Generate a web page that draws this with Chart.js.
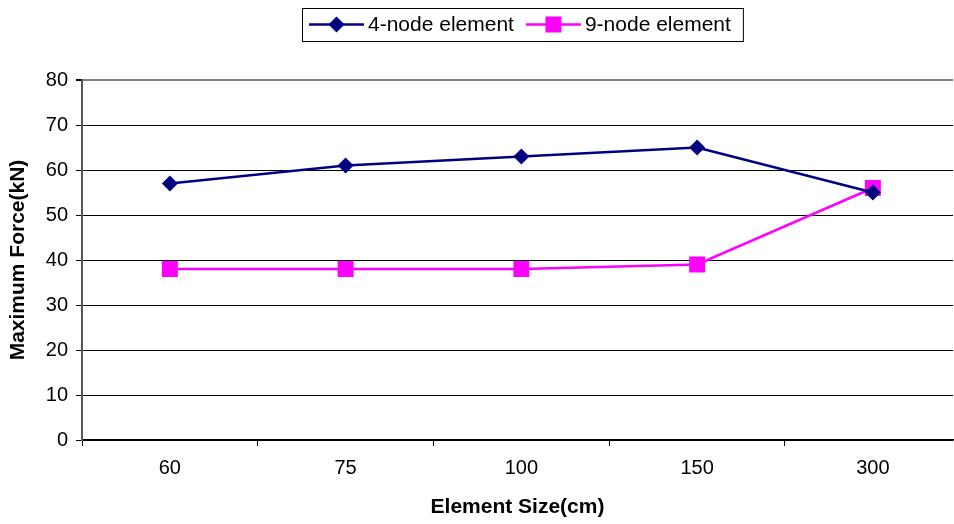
<!DOCTYPE html>
<html>
<head>
<meta charset="utf-8">
<script src="https://cdn.jsdelivr.net/npm/chart.js@4"></script>
<style>
  html, body { margin: 0; padding: 0; background: #fff; overflow: hidden; }
  #forceChart { display: block; }
</style>
</head>
<body>
<canvas id="forceChart" width="954" height="524"></canvas>
<script>
const elementSizes = ['60', '75', '100', '150', '300'];
const fourNode = [57, 61, 63, 65, 55];
const nineNode = [38, 38, 38, 39, 56];
const seriesNames = ['4-node element', '9-node element'];

const FONT = 'Arial, "Liberation Sans", sans-serif';

// categories sit on integer positions; the last slot runs past the canvas edge
const X_MIN = -0.5;
const X_MAX = elementSizes.length - 0.544;

const toPoints = arr => arr.map((v, i) => ({ x: i, y: v }));

// legend drawn in a bordered box above the plot, line + marker + label
const boxedLegend = {
  id: 'boxedLegend',
  afterDraw(chart) {
    const ctx = chart.ctx;
    ctx.save();
    ctx.font = '21px ' + FONT;
    const lineLen = 55, gap = 4, itemGap = 12, padL = 7, padR = 12;
    const widths = chart.data.datasets.map(ds => ctx.measureText(ds.label).width);
    let total = padL + padR;
    widths.forEach((w, i) => { total += lineLen + gap + w + (i ? itemGap : 0); });
    const left = Math.round(522.5 - total / 2);
    const top = 8, h = 33, cy = top + h / 2;
    ctx.strokeStyle = '#000';
    ctx.lineWidth = 1;
    ctx.strokeRect(left + 0.5, top + 0.5, total, h);
    let x = left + padL;
    chart.data.datasets.forEach((ds, i) => {
      if (i) x += itemGap;
      ctx.strokeStyle = ds.borderColor;
      ctx.lineWidth = ds.borderWidth;
      ctx.beginPath();
      ctx.moveTo(x, cy);
      ctx.lineTo(x + lineLen, cy);
      ctx.stroke();
      ctx.fillStyle = ds.pointBackgroundColor;
      Chart.helpers.drawPoint(ctx, {
        pointStyle: ds.pointStyle, radius: ds.pointRadius, borderWidth: 0, rotation: 0
      }, x + lineLen / 2, cy);
      ctx.fillStyle = '#000';
      ctx.textBaseline = 'middle';
      ctx.textAlign = 'left';
      ctx.fillText(ds.label, x + lineLen + gap, cy + 1);
      x += lineLen + gap + widths[i];
    });
    ctx.restore();
  }
};

new Chart(document.getElementById('forceChart'), {
  type: 'line',
  data: {
    datasets: [
      {
        label: seriesNames[0],
        data: toPoints(fourNode),
        borderColor: '#000080',
        backgroundColor: '#000080',
        pointBackgroundColor: '#000080',
        borderWidth: 2.5,
        pointStyle: 'rectRot',
        pointRadius: 8,
        pointHoverRadius: 8,
        pointBorderWidth: 0,
        tension: 0
      },
      {
        label: seriesNames[1],
        data: toPoints(nineNode),
        borderColor: '#FF00FF',
        backgroundColor: '#FF00FF',
        pointBackgroundColor: '#FF00FF',
        borderWidth: 2.5,
        pointStyle: 'rect',
        pointRadius: 11.3,
        pointHoverRadius: 11.3,
        pointBorderWidth: 0,
        tension: 0
      }
    ]
  },
  options: {
    responsive: false,
    animation: false,
    layout: {
      autoPadding: false,
      padding: { top: 80, right: 1, left: 0, bottom: 0 }
    },
    plugins: {
      legend: { display: false },
      tooltip: { enabled: false }
    },
    scales: {
      x: {
        type: 'linear',
        min: X_MIN,
        max: X_MAX,
        afterFit(scale) { scale.height = 84; },
        // a tick mark between categories, a label under each one
        afterBuildTicks(scale) {
          scale.ticks = elementSizes.flatMap((_, i) => [{ value: i - 0.5 }, { value: i }]);
        },
        grid: {
          drawOnChartArea: false,
          color: ctx => Number.isInteger(ctx.tick && ctx.tick.value) ? 'rgba(0,0,0,0)' : '#000',
          tickLength: 6
        },
        border: { color: '#000', width: 1.5 },
        ticks: {
          color: '#000',
          padding: 10,
          maxRotation: 0,
          autoSkip: false,
          callback: v => Number.isInteger(v) ? elementSizes[v] : '',
          font: { family: FONT, size: 20 }
        },
        title: {
          display: true,
          text: 'Element Size(cm)',
          color: '#000',
          padding: { top: 0, bottom: 4 },
          font: { family: FONT, size: 21, weight: 'bold' }
        }
      },
      y: {
        min: 0,
        max: 80,
        afterFit(scale) { scale.width = 82; },
        grid: {
          color: ctx => (ctx.tick && ctx.tick.value === 80) ? '#808080' : '#000',
          lineWidth: ctx => (ctx.tick && ctx.tick.value === 80) ? 2 : 1,
          tickColor: '#000',
          tickLength: 6
        },
        border: { color: '#555', width: 2 },
        ticks: {
          stepSize: 10,
          color: '#000',
          padding: 8,
          font: { family: FONT, size: 20 }
        },
        title: {
          display: true,
          text: 'Maximum Force(kN)',
          color: '#000',
          padding: { top: 6, bottom: 0 },
          font: { family: FONT, size: 21, weight: 'bold' }
        }
      }
    }
  },
  plugins: [boxedLegend]
});
</script>
</body>
</html>
